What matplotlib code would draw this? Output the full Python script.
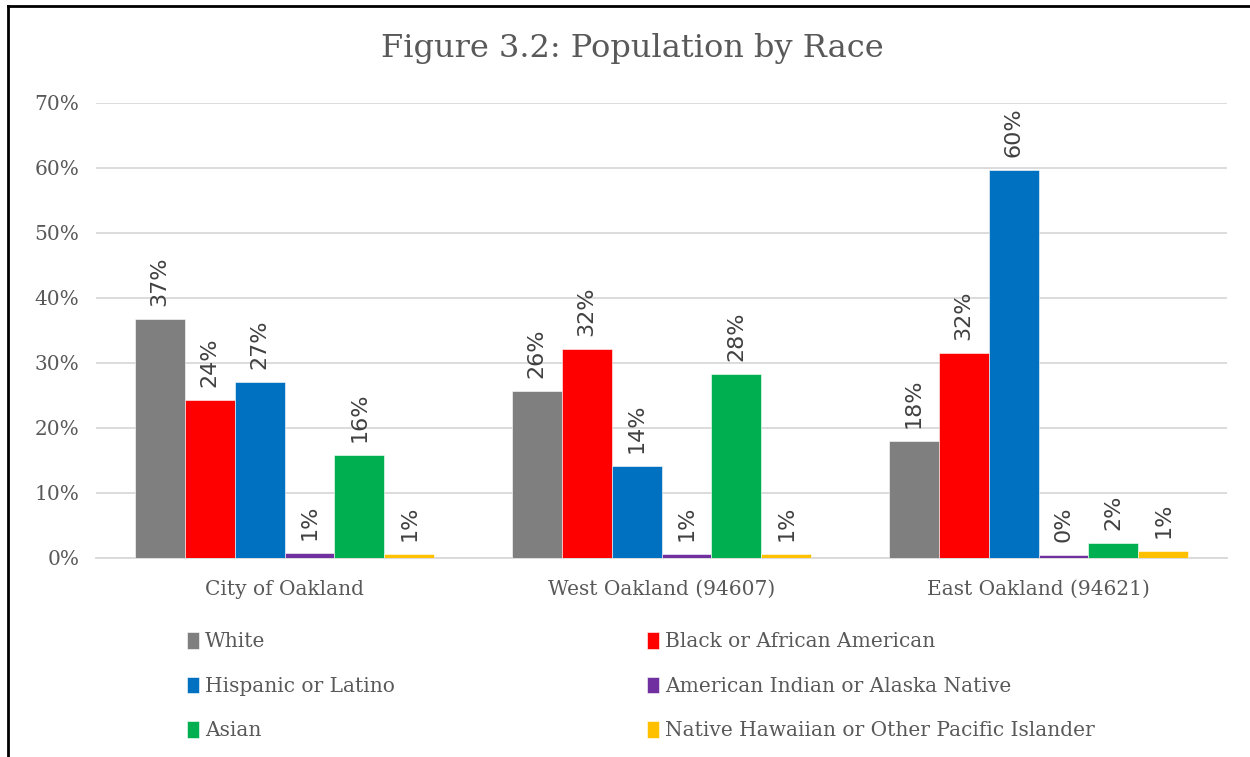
import numpy as np
import matplotlib.pyplot as plt
from matplotlib.lines import Line2D
from matplotlib.ticker import PercentFormatter

# data
areas = ["City of Oakland", "West Oakland (94607)", "East Oakland (94621)"]
races = ["White", "Black or African American", "Hispanic or Latino",
         "American Indian or Alaska Native", "Asian",
         "Native Hawaiian or Other Pacific Islander"]
white    = [36.7, 25.7, 18.0]
black    = [24.3, 32.2, 31.5]
hispanic = [27.0, 14.2, 59.7]
amind    = [0.8, 0.6, 0.4]
asian    = [15.9, 28.3, 2.3]
nhpi     = [0.6, 0.6, 1.1]
colors = ["#7F7F7F", "#FF0000", "#0070C0", "#7030A0", "#00B050", "#FFC000"]

series = [white, black, hispanic, amind, asian, nhpi]

TXT = "#595959"
SERIF = "DejaVu Serif"

fig = plt.figure(figsize=(12.5, 7.57), dpi=100)
ax = fig.add_axes([0.0768, 0.2629, 0.9048, 0.6011])

x = np.arange(len(areas))
w = 0.1326
for i, (vals, c, name) in enumerate(zip(series, colors, races)):
    pos = x + (i - 2.5) * w
    bars = ax.bar(pos, vals, width=w, color=c, label=name,
                  edgecolor="white", linewidth=0.4, zorder=3)
    for b, v in zip(bars, vals):
        ax.text(b.get_x() + b.get_width() / 2, v + 2.0, "{:.0f}%".format(v),
                rotation=90, ha="center", va="bottom", fontsize=16,
                color="#404040", family="DejaVu Sans")

ax.set_xlim(-0.5, 2.5)
ax.set_ylim(0, 70)
ax.set_yticks(np.arange(0, 71, 10))
ax.yaxis.set_major_formatter(PercentFormatter(decimals=0))
ax.set_xticks(x)
ax.set_xticklabels(areas)
ax.grid(axis="y", color="#D9D9D9", linewidth=1.3, zorder=0)
for s in ["top", "right", "left"]:
    ax.spines[s].set_visible(False)
ax.spines["bottom"].set_color("#D9D9D9")
ax.spines["bottom"].set_linewidth(1.3)
ax.tick_params(axis="both", length=0, labelsize=14.5, labelcolor=TXT)
ax.tick_params(axis="y", pad=12)
ax.tick_params(axis="x", pad=16)
for lab in ax.get_xticklabels() + ax.get_yticklabels():
    lab.set_family(SERIF)

fig.text(0.506, 0.936, "Figure 3.2: Population by Race", ha="center",
         va="center", fontsize=23, color=TXT, family=SERIF)

# legend: reference fills row-wise, matplotlib fills column-wise
h, l = ax.get_legend_handles_labels()
order = [0, 2, 4, 1, 3, 5]
leg = fig.legend([h[k] for k in order], [l[k] for k in order], ncol=2,
                 loc="upper left", bbox_to_anchor=(0.135, 0.189),
                 frameon=False, prop={"family": SERIF, "size": 14.5},
                 handlelength=0.6, handleheight=0.9, handletextpad=0.3,
                 columnspacing=12.5, labelspacing=1.25)
for t in leg.get_texts():
    t.set_color(TXT)

# partial frame at top and left as in the reference crop
fig.add_artist(Line2D([0.0064, 0.0064], [0, 0.9915], color="black", lw=2,
                      transform=fig.transFigure))
fig.add_artist(Line2D([0.0064, 1.0], [0.9915, 0.9915], color="black", lw=2,
                      transform=fig.transFigure))

fig.savefig("out.png", dpi=100)
